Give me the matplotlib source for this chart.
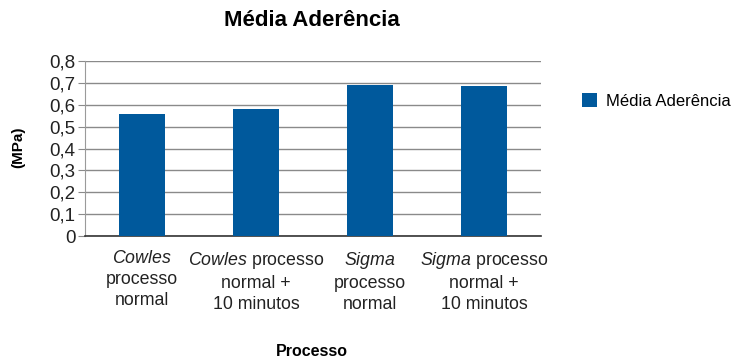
import matplotlib
matplotlib.use('Agg')
import matplotlib.pyplot as plt
from matplotlib.ticker import FuncFormatter, MultipleLocator

plt.rcParams['font.family'] = ['Liberation Sans', 'DejaVu Sans']
plt.rcParams['mathtext.fontset'] = 'custom'
plt.rcParams['mathtext.it'] = 'Liberation Sans:italic'
plt.rcParams['mathtext.rm'] = 'Liberation Sans'

# Data
categories = ['$\\mathit{Cowles}$\nprocesso\nnormal',
              '$\\mathit{Cowles}$ processo\nnormal +\n10 minutos',
              '$\\mathit{Sigma}$\nprocesso\nnormal',
              '$\\mathit{Sigma}$ processo\nnormal +\n10 minutos']
media_aderencia = [0.56, 0.58, 0.69, 0.685]

fig = plt.figure(figsize=(7.42, 3.59), dpi=100)
ax = fig.add_axes([0.1146, 0.3426, 0.6144, 0.4874])

x = range(len(categories))
ax.bar(x, media_aderencia, width=0.4, color='#00599c', label='Média Aderência', zorder=3)

ax.set_xlim(-0.5, len(categories) - 0.5)
ax.set_ylim(0, 0.8)
ax.yaxis.set_major_locator(MultipleLocator(0.1))
ax.yaxis.set_major_formatter(FuncFormatter(lambda v, p: '0' if abs(v) < 1e-9 else ('%.1f' % v).replace('.', ',')))
ax.grid(axis='y', color='#8a8a8a', linewidth=1, zorder=0)

ax.set_xticks(list(x))
ax.set_xticklabels(categories, fontsize=12.8, linespacing=1.3, color='#222222')
ax.tick_params(axis='x', length=0, pad=10)
ax.tick_params(axis='y', length=5, color='#8a8a8a', labelsize=13.5, pad=2, labelcolor='#222222')

for s in ['top', 'right']:
    ax.spines[s].set_visible(False)
ax.spines['left'].set_color('#9a9a9a')
ax.spines['bottom'].set_color('#333333')
ax.spines['bottom'].set_linewidth(1.2)

fig.text(0.42, 0.943, 'Média Aderência', ha='center', va='center', fontsize=16, fontweight='bold')
fig.text(0.025, 0.59, '(MPa)', rotation=90, ha='center', va='center', fontsize=11, fontweight='bold')
fig.text(0.42, 0.02, 'Processo', ha='center', va='center', fontsize=11.5, fontweight='bold')

fig.legend(loc='center left', bbox_to_anchor=(0.785, 0.718), frameon=False, borderpad=0,
           borderaxespad=0, handlelength=0.9, handleheight=0.9, handletextpad=0.5, fontsize=12)

fig.savefig('out.png', dpi=100)
